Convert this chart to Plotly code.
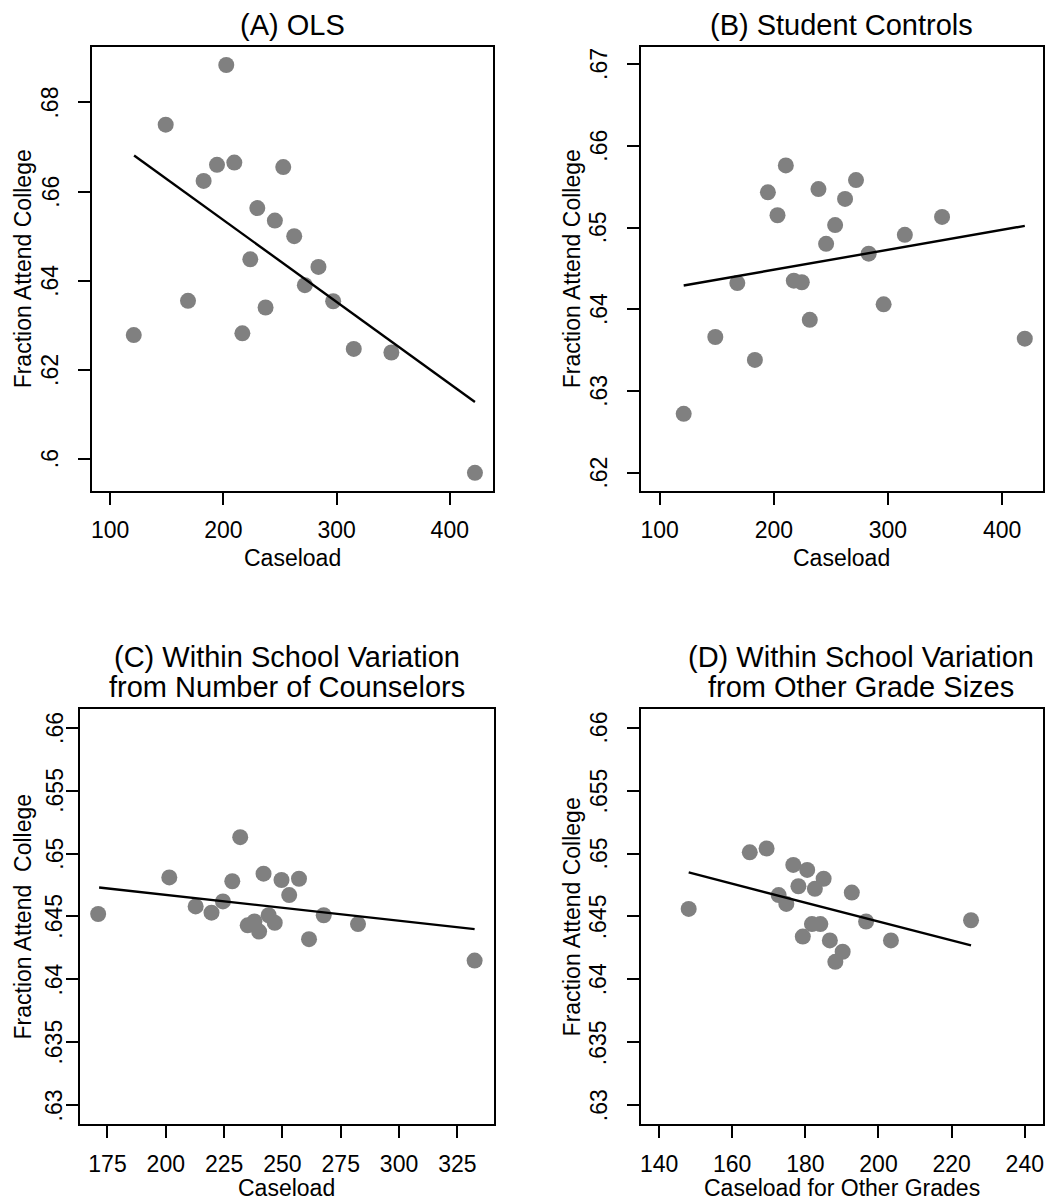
import plotly.graph_objects as go

W, H = 1049, 1203

# ---------------- data ----------------
a_x = [120.9, 149.1, 168.8, 182.6, 194.4, 202.6, 209.7, 216.8, 223.8, 230.0,
       237.3, 245.5, 252.9, 262.6, 272.0, 284.0, 297.0, 315.2, 348.4, 422.2]
a_y = [.6278, .6750, .6355, .6624, .6660, .6884, .6665, .6282, .6448, .6563,
       .6340, .6535, .6655, .6500, .6390, .6431, .6354, .6247, .6239, .5969]
a_fit_x = [121.2, 422.2]
a_fit_y = [.6681, .6128]

b_x = [121.0, 148.7, 168.0, 183.4, 194.8, 203.2, 210.5, 217.5, 224.5, 231.5,
       239.1, 245.8, 253.7, 262.4, 272.0, 283.1, 296.2, 314.8, 347.4, 419.9]
b_y = [.6272, .6366, .6432, .6338, .6543, .6515, .6576, .6435, .6433, .6387,
       .6547, .6480, .6503, .6535, .6558, .6468, .6406, .6491, .6513, .6364]
b_fit_x = [121.0, 419.9]
b_fit_y = [.6429, .6502]

c_x = [171.0, 201.5, 212.8, 219.6, 224.5, 228.5, 231.9, 235.1, 238.0, 240.0,
       241.9, 244.1, 246.7, 249.6, 252.9, 257.1, 261.4, 267.7, 282.4, 332.4]
c_y = [.6452, .6481, .6458, .6453, .6462, .6478, .6513, .6443, .6446, .6438,
       .6484, .6451, .6445, .6479, .6467, .6480, .6432, .6451, .6444, .6415]
c_fit_x = [171.4, 332.4]
c_fit_y = [.6473, .6440]

d_x = [148.1, 164.8, 169.4, 172.7, 174.8, 176.7, 178.1, 179.3, 180.5, 181.8,
       182.6, 184.1, 185.0, 186.7, 188.2, 190.2, 192.7, 196.6, 203.4, 225.3]
d_y = [.6456, .6501, .6504, .6467, .6460, .6491, .6474, .6434, .6487, .6444,
       .6472, .6444, .6480, .6431, .6414, .6422, .6469, .6446, .6431, .6447]
d_fit_x = [148.1, 225.3]
d_fit_y = [.6485, .6427]

a_yticks = [.6, .62, .64, .66, .68]
a_ytext = [".6", ".62", ".64", ".66", ".68"]
b_yticks = [.62, .63, .64, .65, .66, .67]
b_ytext = [".62", ".63", ".64", ".65", ".66", ".67"]
cd_yticks = [.63, .635, .64, .645, .65, .655, .66]
cd_ytext = [".63", ".635", ".64", ".645", ".65", ".655", ".66"]
a_xticks = [100, 200, 300, 400]
b_xticks = [100, 200, 300, 400]
c_xticks = [175, 200, 225, 250, 275, 300, 325]
d_xticks = [140, 160, 180, 200, 220, 240]

titles = {
    "A": ["(A) OLS"],
    "B": ["(B) Student Controls"],
    "C": ["(C) Within School Variation", "from Number of Counselors"],
    "D": ["(D) Within School Variation", "from Other Grade Sizes"],
}
x_titles = {"A": "Caseload", "B": "Caseload", "C": "Caseload", "D": "Caseload for Other Grades"}
y_titles = {"A": "Fraction Attend College", "B": "Fraction Attend College",
            "C": "Fraction Attend\u00a0 College", "D": "Fraction Attend College"}

# ---------------- layout helpers ----------------
FONT = "Liberation Sans, Arial, Helvetica, sans-serif"
MARKER = "#808080"

def px_x(p):
    return p / W

def px_y(p):
    return 1 - p / H

panels = {
    "A": dict(box=(90.7, 493.0, 46.7, 490.7), xr=[83.6, 438.2], yr=[0.5929, 0.6925],
              data=(a_x, a_y, a_fit_x, a_fit_y), yt=(a_yticks, a_ytext), xt=a_xticks,
              title_x=291.7, title_y=[25], ytitle_x=21.7, ticklab_x=49.2, xtitle_y=558.3),
    "B": dict(box=(641.0, 1043.7, 46.7, 490.7), xr=[83.4, 435.6], yr=[0.6178, 0.67212],
              data=(b_x, b_y, b_fit_x, b_fit_y), yt=(b_yticks, b_ytext), xt=b_xticks,
              title_x=842.3, title_y=[25], ytitle_x=571.7, ticklab_x=599.0, xtitle_y=558.3),
    "C": dict(box=(79.0, 493.7, 709.3, 1124.3), xr=[163.15, 340.6], yr=[0.62849, 0.66146],
              data=(c_x, c_y, c_fit_x, c_fit_y), yt=(cd_yticks, cd_ytext), xt=c_xticks,
              title_x=286.7, title_y=[656.7, 686.7], ytitle_x=21.7, ticklab_x=53.3, xtitle_y=1188.0),
    "D": dict(box=(641.0, 1043.7, 709.3, 1124.3), xr=[135.0, 244.9], yr=[0.62849, 0.66146],
              data=(d_x, d_y, d_fit_x, d_fit_y), yt=(cd_yticks, cd_ytext), xt=d_xticks,
              title_x=861.7, title_y=[656.7, 686.7], ytitle_x=571.7, ticklab_x=599.0, xtitle_y=1188.0),
}

fig = go.Figure()
layout = dict(
    width=W, height=H, margin=dict(l=0, r=0, t=0, b=0),
    paper_bgcolor="white", plot_bgcolor="white", showlegend=False,
    font=dict(family=FONT, color="black", size=23),
)
annotations = []

for i, (name, p) in enumerate(panels.items(), start=1):
    sfx = "" if i == 1 else str(i)
    xa, ya = "x" + sfx, "y" + sfx
    left, right, top, bottom = p["box"]
    xs, ys, fx, fy = p["data"]
    fig.add_trace(go.Scatter(x=xs, y=ys, mode="markers", xaxis=xa, yaxis=ya,
                             marker=dict(size=16, color=MARKER, line=dict(width=0)),
                             hoverinfo="skip"))
    fig.add_trace(go.Scatter(x=fx, y=fy, mode="lines", xaxis=xa, yaxis=ya,
                             line=dict(color="black", width=2.4), hoverinfo="skip"))
    common = dict(showgrid=False, zeroline=False, showline=True, mirror=True,
                  linecolor="black", linewidth=2, ticks="outside", ticklen=12,
                  tickwidth=1.5, tickcolor="black",
                  tickfont=dict(family=FONT, size=23, color="black"))
    layout["xaxis" + sfx] = dict(common, domain=[px_x(left), px_x(right)], range=p["xr"],
                                 anchor=ya, tickvals=p["xt"],
                                 ticktext=[str(v) for v in p["xt"]],
                                 ticklabelstandoff=6)
    layout["yaxis" + sfx] = dict(common, domain=[px_y(bottom), px_y(top)], range=p["yr"],
                                 anchor=xa, tickvals=p["yt"][0], showticklabels=False)
    # rotated y tick labels
    for v, t in zip(*p["yt"]):
        annotations.append(dict(text=t, x=px_x(p["ticklab_x"]), y=v,
                                xref="paper", yref=ya, xanchor="center",
                                yanchor="middle", textangle=-90, showarrow=False,
                                font=dict(family=FONT, size=23, color="black")))
    # panel titles
    for line, ty in zip(titles[name], p["title_y"]):
        annotations.append(dict(text=line, x=px_x(p["title_x"]), y=px_y(ty),
                                xref="paper", yref="paper", xanchor="center",
                                yanchor="middle", showarrow=False,
                                font=dict(family=FONT, size=29, color="black")))
    # x-axis title
    annotations.append(dict(text=x_titles[name], x=px_x((left + right) / 2),
                            y=px_y(p["xtitle_y"]), xref="paper", yref="paper",
                            xanchor="center", yanchor="middle", showarrow=False,
                            font=dict(family=FONT, size=23, color="black")))
    # y-axis title
    annotations.append(dict(text=y_titles[name], x=px_x(p["ytitle_x"]),
                            y=px_y((top + bottom) / 2), xref="paper", yref="paper",
                            xanchor="center", yanchor="middle", textangle=-90,
                            showarrow=False,
                            font=dict(family=FONT, size=23, color="black")))

layout["annotations"] = annotations
fig.update_layout(**layout)
fig.write_html("out.html")
